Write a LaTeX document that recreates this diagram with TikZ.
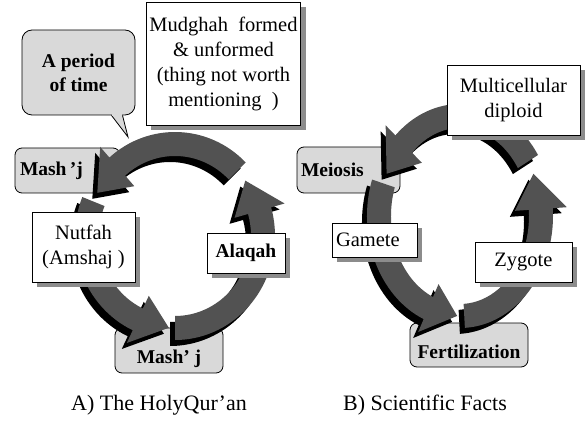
\documentclass[tikz,border=0pt]{standalone}
\usepackage{fontspec}
\setmainfont{Liberation Serif}
\usetikzlibrary{positioning,shadows}

\newcommand{\lbl}{\fontsize{20.5}{25}\selectfont}
\newcommand{\blbl}{\fontsize{19.5}{24}\selectfont\bfseries}

\tikzset{
 wbox/.style
  = {rectangle, draw, fill=white, line width=0.8pt, inner sep=3pt, align=center,
     font=\lbl, drop shadow={shadow xshift=5pt, shadow yshift=-5pt, fill=black!45, opacity=1}},
 gbox/.style
  = {rectangle, draw, fill=black!15, line width=0.8pt, rounded corners=7pt,
     inner sep=4pt, font=\blbl},
 ringbody/.style
  = {fill=black!68},
 ringshadow/.style
  = {fill=black, shift={(-5,-6)}},
}

% one curved arrow of a cycle: x radius, y radius, tail angle, tip angle
\newcommand{\ringarrow}[4]{%
  \pgfmathsetmacro{\hb}{#4-21}%
  \pgfmathsetmacro{\rxo}{#1+12}\pgfmathsetmacro{\ryo}{#2+12}%
  \pgfmathsetmacro{\rxi}{#1-12}\pgfmathsetmacro{\ryi}{#2-12}%
  \pgfmathsetmacro{\rxh}{#1+26}\pgfmathsetmacro{\ryh}{#2+26}%
  \pgfmathsetmacro{\rxl}{#1-26}\pgfmathsetmacro{\ryl}{#2-26}%
  \foreach \sty in {ringshadow,ringbody}
    \fill[\sty] ({\rxi*cos(#3)},{\ryi*sin(#3)}) -- ({\rxo*cos(#3)},{\ryo*sin(#3)})
      arc[start angle=#3, end angle=\hb, x radius=\rxo, y radius=\ryo]
      -- ({\rxh*cos(\hb)},{\ryh*sin(\hb)}) -- ({#1*cos(#4)},{#2*sin(#4)})
      -- ({\rxl*cos(\hb)},{\ryl*sin(\hb)}) -- ({\rxi*cos(\hb)},{\ryi*sin(\hb)})
      arc[start angle=\hb, end angle=#3, x radius=\rxi, y radius=\ryi] -- cycle;
}

\begin{document}
\begin{tikzpicture}[x=1pt, y=1pt]
\useasboundingbox (0,0) rectangle (586,434);

% Boxes behind the rings
\node[gbox, minimum width=105, minimum height=45, text width=95, align=left] (mashA) at (67.5,263.5) {Mash\,’j};
\node[gbox, minimum width=108, text height=29, text depth=4, inner ysep=6] (mashB) at (169,83.5) {Mash’ j};
\node[gbox, minimum width=103, minimum height=46, text width=95, align=left] (meiosis) at (348.5,264) {Meiosis};
\node[gbox, minimum width=118, text height=29, text depth=3, inner ysep=6] (fert) at (469,89) {Fertilization};

% Cycle A
\begin{scope}[shift={(175,198)}]
  \ringarrow{88}{92}{45}{152}
  \ringarrow{88}{92}{158}{266}
  \ringarrow{88}{92}{270}{397}
\end{scope}

% Cycle B
\begin{scope}[shift={(460,218)}]
  \ringarrow{81}{100}{33}{155}
  \ringarrow{81}{100}{161}{268}
  \ringarrow{81}{100}{273}{385}
\end{scope}

% Callout
\node[gbox, rounded corners=10pt, minimum width=113, minimum height=85, align=center] (period) at (78.5,361.5) {A period\\of time};
\coordinate (periodtip) at (128,297);
\filldraw[fill=black!15, line width=0.8pt] ([xshift=33]period.south) -- (periodtip) -- ([xshift=44]period.south);
\fill[black!15] ([xshift=33.8,yshift=0.9]period.south) rectangle ([xshift=43.2,yshift=-0.3]period.south);

% Boxes in front of the rings
\node[wbox, minimum width=153, minimum height=123] (mudghah) at (223.5,370.5) {Mudghah\ \ formed\\\& unformed\\ (thing not worth\\mentioning\ \ )};
\node[wbox, minimum width=103, minimum height=70] (nutfah) at (83.5,187) {Nutfah\\(Amshaj )};
\node[wbox, minimum width=78, minimum height=40, font=\blbl] (alaqah) at (246,181) {Alaqah};
\node[wbox, minimum width=133, minimum height=70] (multi) at (513.5,334) {Multicellular\\diploid};
\node[wbox, minimum width=85, minimum height=34, text width=77, align=left] (gamete) at (374.5,194) {Gamete};
\node[wbox, minimum width=97, minimum height=40] (zygote) at (523.5,172) {Zygote};

% Captions
\node[font=\fontsize{22}{26}\selectfont] (capA) at (159,29) {A) The HolyQur’an};
\node[font=\fontsize{22}{26}\selectfont] (capB) at (425,29) {B) Scientific Facts};

\end{tikzpicture}
\end{document}
